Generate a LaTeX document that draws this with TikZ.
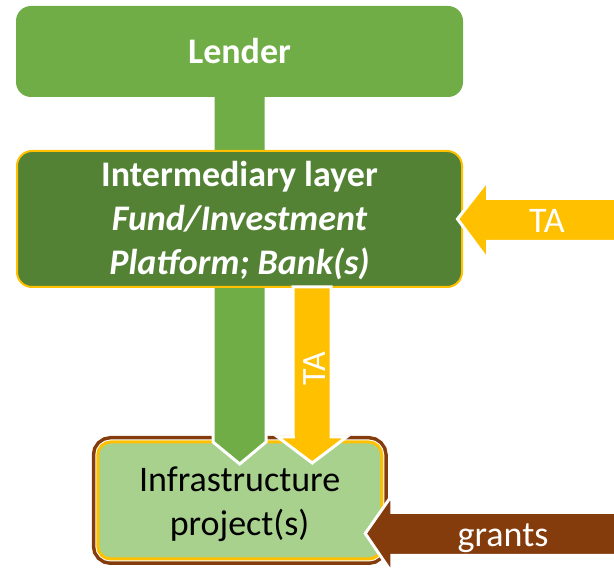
\documentclass[tikz,border=0pt]{standalone}
\usepackage{fontspec}
\setmainfont{Carlito}
\usetikzlibrary{calc,positioning}
\definecolor{lendergreen}{HTML}{70AD47}
\definecolor{layergreen}{HTML}{548235}
\definecolor{projgreen}{HTML}{A9D18E}
\definecolor{tagold}{HTML}{FFC000}
\definecolor{grantbrown}{HTML}{843C0C}
\newcommand{\bigfont}[0]{\fontsize{36}{44}\selectfont}

\begin{document}
\begin{tikzpicture}[x=1pt,y=-1pt,
		box/.style={rectangle,rounded corners=15pt,inner sep=0pt,outer sep=0pt},
		lenderbox/.style={box,fill=lendergreen,minimum width=447pt,minimum height=91pt},
		layerbox/.style={box,fill=layergreen,draw=tagold,line width=2pt,minimum width=445pt,minimum height=136pt},
		projbox/.style={box,rounded corners=13pt,fill=projgreen,draw=tagold,line width=3pt,
			minimum width=284pt,minimum height=117pt,
			preaction={draw=grantbrown,line width=12pt},preaction={draw=white,line width=5pt}},
		flow/.style={draw=white,line width=3pt,line join=miter},
		txt/.style={font=\bigfont,text=white,inner sep=0pt,anchor=base,align=center}]
		\useasboundingbox (0,0) rectangle (614,569);
		\node[projbox] (project) at (239.75,500.5) {};
		\node (lenderpos) at (239.5,51.5) {};
		% money flow, runs behind the two upper boxes
		\filldraw[flow,fill=lendergreen] ([xshift=-26.5pt]lenderpos.center) -- ([xshift=26.5pt]lenderpos.center)
			-- ([xshift=26.5pt]lenderpos.center |- project.north) -- ([yshift=-22pt]project.north)
			-- ([xshift=-26.5pt]lenderpos.center |- project.north) -- cycle;
		\node[lenderbox] (lender) at (lenderpos) {};
		\node[layerbox] (layer) at (239.5,219) {};
		% technical assistance into the project
		\coordinate (tatip) at ([xshift=72.5pt,yshift=-21pt]project.north);
		\filldraw[flow,fill=tagold] ([xshift=53.5pt]layer.south) -- ([xshift=91.5pt]layer.south) -- ++(0,150) -- ++(15.5,0)
			-- (tatip) -- ++(-34.5,-26) -- ++(15.5,0) -- cycle;
		% technical assistance into the layer
		\coordinate (tain) at ([xshift=-4.5pt]layer.east);
		\filldraw[flow,fill=tagold] (tain) -- ++(30,-38.5) -- ++(0,18) -- ++(130,0) -- ++(0,43) -- ++(-130,0) -- ++(0,18) -- cycle;
		% grants
		\coordinate (grantin) at ([xshift=-16.5pt,yshift=-33pt]project.east);
		\filldraw[flow,fill=grantbrown] (grantin) -- ++(26.5,-38) -- ++(0,17) -- ++(230,0) -- ++(0,43) -- ++(-230,0) -- ++(0,17) -- cycle;
		\node[txt,font=\bigfont\bfseries] (lendertext) at (239.5,64) {Lender};
		\node[txt,font=\bigfont\bfseries] (layertext) at (239.5,275) {Intermediary layer\\\itshape Fund/Investment\\\itshape Platform; Bank(s)};
		\node[txt,text=black] (projtext) at (239.6,536) {Infrastructure\\project(s)};
		\node[txt,anchor=center,rotate=90,font=\fontsize{34}{40}\selectfont] (tadown) at (315,369) {TA};
		\node[txt] (taright) at (547,233) {TA};
		\node[txt] (granttext) at (503,547) {grants};
\end{tikzpicture}
\end{document}
